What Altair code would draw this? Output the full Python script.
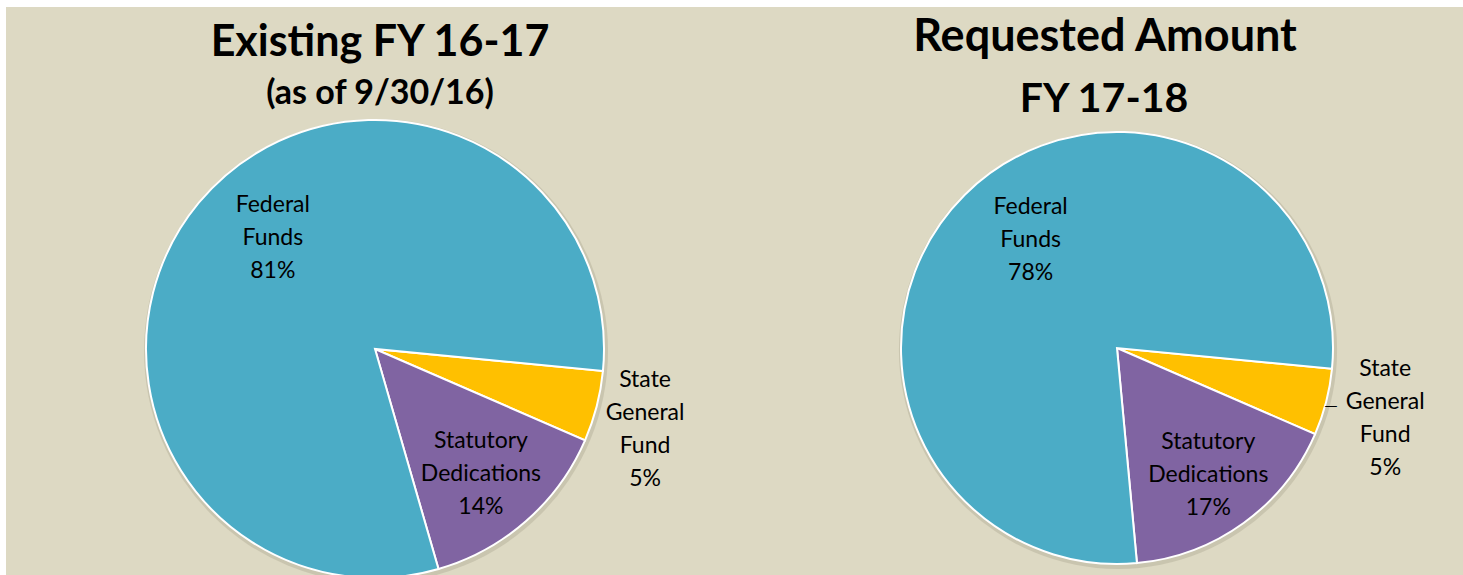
import math
import altair as alt
import pandas as pd

# ---- data ----
sources = ["State General Fund", "Statutory Dedications", "Federal Funds"]
label_names = ["State\nGeneral\nFund", "Statutory\nDedications", "Federal\nFunds"]
existing_pct = [5, 14, 81]
requested_pct = [5, 17, 78]
colors = ["#FFC000", "#8064A2", "#4BACC6"]

FONT = "Lato"
A0 = math.radians(95.5)
theta_scale = alt.Scale(domain=[0, 100], range=[A0, A0 + 2 * math.pi])
color_scale = alt.Scale(domain=sources, range=colors)


def make_df(pcts):
    return pd.DataFrame({
        "k": list(range(len(sources))),
        "Source": sources,
        "Name": label_names,
        "Pct": pcts,
        "Label": [n + "\n" + f"{p}%" for n, p in zip(label_names, pcts)],
    })


def pie(df, cx, cy, r, label_r, title_lines):
    base = alt.Chart(df).transform_window(
        cum="sum(Pct)", sort=[alt.SortField("k")], frame=[None, 0]
    ).transform_calculate(
        start="datum.cum - datum.Pct", mid="datum.cum - datum.Pct / 2"
    )
    shadow = alt.Chart(pd.DataFrame({"a": [0]})).mark_arc(
        radius=r + 3, fill="#BDB8A2", opacity=0.6
    ).encode(
        x=alt.value(cx + 1), y=alt.value(cy + 2),
        theta=alt.value(0), theta2=alt.value(2 * math.pi),
    )
    arcs = base.mark_arc(radius=r, stroke="white", strokeWidth=2).encode(
        x=alt.value(cx), y=alt.value(cy),
        theta=alt.Theta("start:Q", scale=theta_scale),
        theta2="cum:Q",
        color=alt.Color("Source:N", scale=color_scale, legend=None),
    )
    layers = [shadow, arcs]
    for src, (lr, dx, dy) in label_r.items():
        t = base.transform_filter(alt.datum.Source == src).mark_text(
            font=FONT, fontSize=23, lineHeight=33, color="black",
            align="center", baseline="middle", lineBreak="\n", dx=dx, dy=dy,
        ).encode(
            x=alt.value(cx), y=alt.value(cy),
            theta=alt.Theta("mid:Q", scale=theta_scale),
            radius=alt.value(lr),
            text="Label:N",
        )
        layers.append(t)
    for txt, tx, ty, fs in title_lines:
        layers.append(
            alt.Chart(pd.DataFrame({"a": [0]})).mark_text(
                font=FONT, fontSize=fs, fontWeight="bold", color="black",
                align="center", baseline="alphabetic",
            ).encode(x=alt.value(tx), y=alt.value(ty), text=alt.value(txt))
        )
    return layers, base


bg = alt.Chart(pd.DataFrame({"a": [0]})).mark_rect(color="#DDD9C3").encode(
    x=alt.value(6), x2=alt.value(1463), y=alt.value(7), y2=alt.value(575)
)

left_layers, _ = pie(
    make_df(existing_pct), 375, 349, 229,
    {"Federal Funds": (151, 14, -48), "Statutory Dedications": (162, -1, -30),
     "State General Fund": (281, -2, -39)},
    [("Existing FY 16-17", 380, 56, 43), ("(as of 9/30/16)", 380, 104, 34)],
)
right_layers, rbase = pie(
    make_df(requested_pct), 1117, 348, 216,
    {"Federal Funds": (145, 16, -38), "Statutory Dedications": (154, 1, -31),
     "State General Fund": (276, 1, -48)},
    [("Requested Amount", 1105, 51, 45), ("FY 17-18", 1104, 112, 41)],
)

leader = rbase.transform_filter(alt.datum.Source == "State General Fund").mark_text(
    font="DejaVu Sans", fontSize=13, color="black", align="center", baseline="middle",
    dy=3,
).encode(
    x=alt.value(1117), y=alt.value(348),
    theta=alt.Theta("mid:Q", scale=theta_scale),
    radius=alt.value(221),
    text=alt.value("\u2014"),
)

chart = alt.layer(bg, *left_layers, *right_layers, leader).properties(
    width=1463, height=575, padding=0,
    autosize=alt.AutoSizeParams(type="none"),
).configure(background="white").configure_view(stroke=None)

chart.save("out.html", embed_options={"renderer": "svg", "actions": False})
